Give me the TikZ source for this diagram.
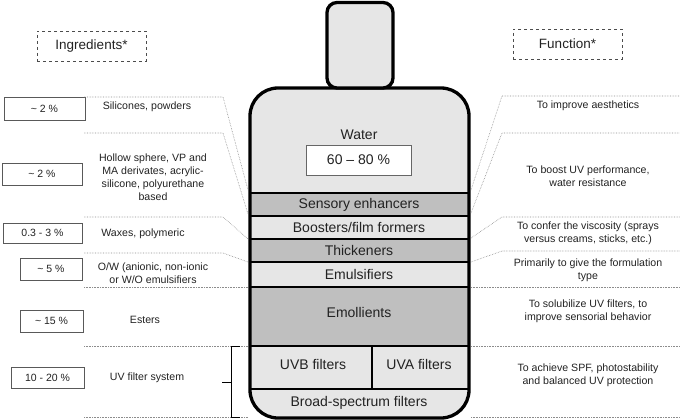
\documentclass[tikz,border=0pt]{standalone}
\usepackage{fontspec}
\setmainfont{Liberation Sans}
\definecolor{fillLight}{HTML}{E6E6E6}
\definecolor{fillDark}{HTML}{BFBFBF}
\definecolor{leadGray}{HTML}{8C8C8C}
\definecolor{inkGray}{HTML}{222222}
\tikzset{
  layer/.style={font=\fontsize{14}{16}\selectfont, text=inkGray},
  note/.style={font=\fontsize{10.6}{13}\selectfont, align=center, text=inkGray},
  pctbox/.style={draw=black!65, line width=0.8pt, font=\fontsize{10.5}{12}\selectfont, text=inkGray, inner sep=0pt},
  headbox/.style={draw=black!70, dashed, line width=0.7pt, minimum width=109, minimum height=30,
    font=\fontsize{13.5}{16}\selectfont, text=inkGray},
  lead/.style={leadGray, densely dotted, line width=0.6pt},
  wall/.style={line width=2.7pt, black},
  shell/.style={line width=3.3pt, black},
}
\begin{document}
\begin{tikzpicture}[x=1pt,y=-1pt]
    \useasboundingbox (0,0) rectangle (680,420);
    % bottle body and bands
    \fill[fillLight, rounded corners=28] (250,418) -- (250,88) -- (469,88) -- (469,418) -- cycle;
    \fill[fillDark] (250,193) rectangle (469,216);
    \fill[fillDark] (250,239) rectangle (469,262);
    \fill[fillDark] (250,287) rectangle (469,346);
    \foreach \yy in {193,216,239,262,287,346,389}
      \draw[wall] (250,\yy) -- (469,\yy);
    \draw[wall] (372,346) -- (372,389);
    \draw[shell, rounded corners=28] (250,418) -- (250,88) -- (469,88) -- (469,418) -- cycle;
    \draw[shell, fill=fillLight, rounded corners=10] (327,2.5) rectangle (393,88);
    % bottle labels
    \node[layer] (water) at (359,135) {Water};
    \node[draw=black!60, fill=white, line width=0.8pt, minimum width=105, minimum height=30,
      font=\fontsize{14}{16}\selectfont, text=inkGray] (waterpct) at (358.5,160) {60 -- 80 \%};
    \node[layer] (sens) at (359,204.5) {Sensory enhancers};
    \node[layer] (boost) at (359,227.5) {Boosters/film formers};
    \node[layer] (thick) at (359,250.5) {Thickeners};
    \node[layer] (emuls) at (359,274.5) {Emulsifiers};
    \node[layer] (emoll) at (359,312) {Emollients};
    \node[layer] (uvb) at (313,364) {UVB filters};
    \node[layer] (uva) at (419,364) {UVA filters};
    \node[layer] (broad) at (359,403) {Broad-spectrum filters};
    % headers
    \node[headbox] (ingr) at (91.5,46) {Ingredients*};
    \node[headbox] (func) at (567.5,44) {Function*};
    % percentages
    \node[pctbox, minimum width=81, minimum height=23] (p1) at (44.5,108.5) {\textasciitilde{} 2 \%};
    \node[pctbox, minimum width=80, minimum height=22] (p2) at (42,174) {\textasciitilde{} 2 \%};
    \node[pctbox, minimum width=79, minimum height=20] (p3) at (42.5,233) {0.3 - 3 \%};
    \node[pctbox, minimum width=62, minimum height=22] (p4) at (51,269) {\textasciitilde{} 5 \%};
    \node[pctbox, minimum width=63, minimum height=22] (p5) at (51.5,321) {\textasciitilde{} 15 \%};
    \node[pctbox, minimum width=73, minimum height=21] (p6) at (47.5,377.5) {10 - 20 \%};
    % ingredients
    \node[note] (i1) at (147,107) {Silicones, powders};
    \node[note] (i2) at (153,177) {Hollow sphere, VP and\\MA derivates, acrylic-\\silicone, polyurethane\\based};
    \node[note] (i3) at (143,234) {Waxes, polymeric};
    \node[note] (i4) at (153,273) {O/W (anionic, non-ionic\\or W/O emulsifiers};
    \node[note] (i5) at (145,320) {Esters};
    \node[note] (i6) at (147,378) {UV filter system};
    % functions
    \node[note] (f1) at (588,106) {To improve aesthetics};
    \node[note] (f2) at (588,176) {To boost UV performance,\\water resistance};
    \node[note] (f3) at (588,233) {To confer the viscosity (sprays\\versus creams, sticks, etc.)};
    \node[note] (f4) at (588,270) {Primarily to give the formulation\\type};
    \node[note] (f5) at (588,311) {To solubilize UV filters, to\\improve sensorial behavior};
    \node[note] (f6) at (588,375) {To achieve SPF, photostability\\and balanced UV protection};
    % leader lines
    \foreach \n/\ly/\by in {a/97/190, b/133/214, c/217/239, d/253/262, e/287/287, f/346/346, g/417/417} {
      \coordinate (L\n) at (84,\ly);
      \coordinate (Lk\n) at (223,\ly);
      \coordinate (Lb\n) at (248,\by);
      \draw[lead] (L\n) -- (Lk\n) -- (Lb\n);
    }
    \foreach \n/\ly/\by in {a/96/190, b/133/213, c/217/238, d/251/262, e/287/287, f/346/346, g/417/417} {
      \coordinate (Rb\n) at (471,\by);
      \coordinate (Rk\n) at (502,\ly);
      \coordinate (R\n) at (680,\ly);
      \draw[lead] (Rb\n) -- (Rk\n) -- (R\n);
    }
    % brace for the UV filters
    \coordinate (bt) at (240,346);
    \coordinate (bb) at (240,417);
    \coordinate (bm) at (231,382);
    \draw[line width=1pt] (bt) -- (231,346) -- (231,417) -- (bb);
    \draw[line width=1pt] (bm) -- ++(-9,0);
  \end{tikzpicture}
\end{document}
